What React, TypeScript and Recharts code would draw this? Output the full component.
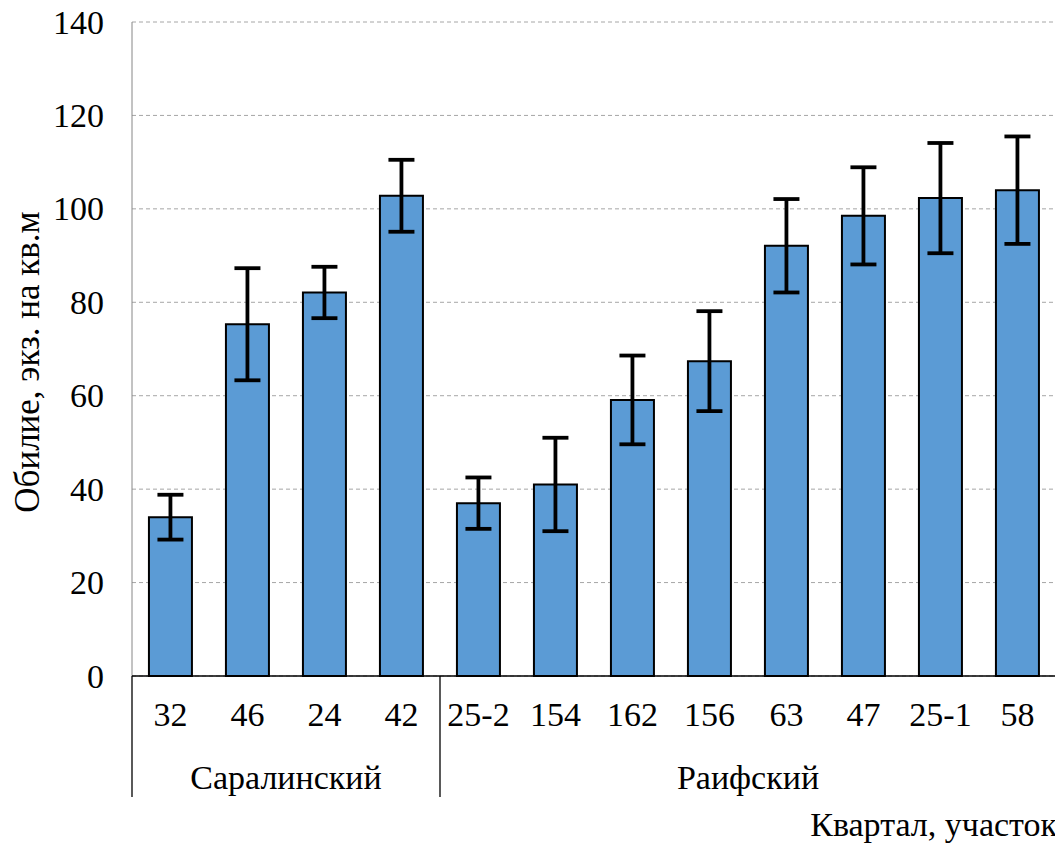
import { BarChart, Bar, XAxis, YAxis, CartesianGrid, ErrorBar } from "recharts";

const sites = ["32", "46", "24", "42", "25-2", "154", "162", "156", "63", "47", "25-1", "58"];
const districts = [
  "Саралинский", "Саралинский", "Саралинский", "Саралинский",
  "Раифский", "Раифский", "Раифский", "Раифский",
  "Раифский", "Раифский", "Раифский", "Раифский",
];
const abundance = [34, 75.3, 82.1, 102.8, 37, 41, 59.1, 67.4, 92.1, 98.5, 102.3, 104];
const errors = [4.8, 12, 5.5, 7.7, 5.5, 10, 9.5, 10.7, 10, 10.4, 11.8, 11.5];
const yTicks = [0, 20, 40, 60, 80, 100, 120, 140];

const data = sites.map((site, i) => ({
  site,
  district: districts[i],
  value: abundance[i],
  err: errors[i],
}));

const txt = { fontFamily: "Liberation Serif", fontSize: 34, fill: "#000" };

function SiteTick(props: any) {
  const { x, y, payload, index } = props;
  const i = payload?.index ?? index;
  const half = payload?.offset ?? 38.5;
  const left = x - half;
  const right = x + half;
  const isStart = i === 0 || districts[i] !== districts[i - 1];
  const isLast = i === sites.length - 1;
  const count = districts.filter(d => d === districts[i]).length;

  return (
    <g>
      <text x={x} y={y + 50} textAnchor="middle" style={txt}>{payload.value}</text>
      {isStart && (
        <>
          <line x1={left} y1={y} x2={left} y2={y + 121} stroke="#000" strokeWidth={1.3} />
          <text x={left + half * count} y={y + 113} textAnchor="middle" style={txt}>{districts[i]}</text>
        </>
      )}
      {isLast && (
        <>
          <line x1={right} y1={y} x2={right} y2={y + 121} stroke="#000" strokeWidth={1.3} />
          <text x={right + 1} y={y + 160} textAnchor="end" style={txt}>Квартал, участок</text>
        </>
      )}
    </g>
  );
}

function YTick(props: any) {
  const { x, y, payload } = props;
  return (
    <text x={x} y={y} dy="0.34em" textAnchor="end" style={txt}>{payload.value}</text>
  );
}

function YLabel(props: any) {
  const { viewBox } = props;
  const cx = viewBox.x + 19;
  const cy = viewBox.y + viewBox.height / 2 + 13;
  return (
    <text x={cx} y={cy} transform={`rotate(-90, ${cx}, ${cy})`} textAnchor="middle"
      dominantBaseline="central" style={{ ...txt, fontSize: 35 }}>
      Обилие, экз. на кв.м
    </text>
  );
}

export default function App() {
  return (
    <div style={{ width: 1055, height: 845, marginTop: -8 }}>
      <BarChart width={1055} height={845} data={data}
        margin={{ top: 22, right: 7, bottom: 0, left: 0 }} barCategoryGap="22%">
        <CartesianGrid vertical={false} stroke="#A6A6A6" strokeDasharray="4 3" />
        <YAxis domain={[0, 140]} ticks={yTicks} width={124} tickLine={false} tickSize={0} tickMargin={28}
          axisLine={{ stroke: "#868686" }}
          tick={<YTick />}
          label={{ content: <YLabel /> }} />
        <XAxis dataKey="site" height={169} interval={0} tickLine={false} tickSize={0} tickMargin={0}
          axisLine={{ stroke: "#000", strokeWidth: 1.3 }} tick={<SiteTick />} />
        <Bar dataKey="value" fill="#5B9BD5" stroke="#000" strokeWidth={2} isAnimationActive={false}>
          <ErrorBar dataKey="err" width={13} stroke="#000" strokeWidth={3.8} direction="y" />
        </Bar>
      </BarChart>
    </div>
  );
}
